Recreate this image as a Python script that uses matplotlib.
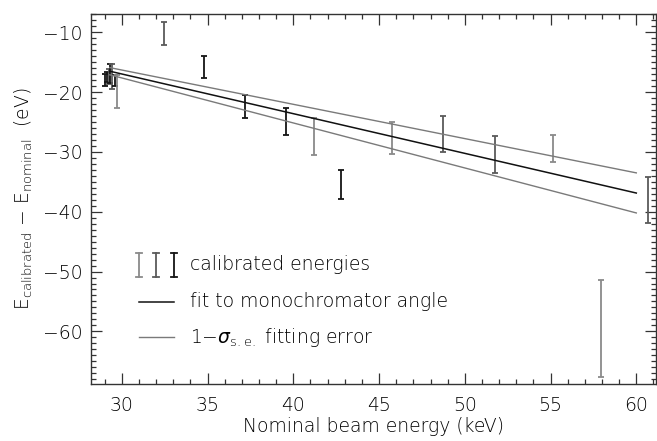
import matplotlib
matplotlib.use("Agg")
import matplotlib.pyplot as plt
from matplotlib.ticker import MultipleLocator

plt.rcParams['font.family'] = ['DejaVu Sans']
plt.rcParams['font.weight'] = 'light'
plt.rcParams['axes.labelweight'] = 'light'
plt.rcParams['mathtext.fontset'] = 'dejavusans'

# Calibration points: nominal energy (keV), offset centre and half-range (eV)
energy = [29.0, 29.12, 29.23, 29.33, 29.43, 29.58, 29.72, 32.43, 34.8, 37.18,
          39.6, 41.19, 42.76, 45.77, 48.75, 51.76, 55.16, 57.93, 60.69]
offset = [-18.0, -17.45, -17.45, -16.9, -17.4, -18.1, -19.9, -10.23, -15.8, -22.4,
          -24.9, -27.4, -35.5, -27.7, -27.0, -30.4, -29.4, -59.5, -38.0]
offset_err = [1.0, 0.85, 1.25, 1.6, 2.1, 0.9, 2.7, 1.9, 1.8, 1.9,
              2.3, 3.15, 2.45, 2.7, 2.93, 3.1, 2.2, 8.1, 3.8]
# measurement set each point belongs to
group = [2, 2, 1, 2, 1, 2, 0, 1, 2, 2, 2, 0, 2, 0, 1, 1, 0, 0, 1]
group_colors = ['#8a8a8a', '#5a5a5a', '#151515']

# Monochromator-angle fit and its 1-sigma envelope
fit_x = [29.3, 60.0]
fit_center = [-16.5, -36.87]
fit_upper = [-15.9, -33.5]
fit_lower = [-17.1, -40.2]

fig = plt.figure(figsize=(6.57, 4.41), dpi=100)
ax = fig.add_axes([0.1385, 0.1293, 0.86, 0.8387])

text_color = '#000000'

for x, y, e, g in zip(energy, offset, offset_err, group):
    ax.errorbar([x], [y], yerr=[e], fmt='none', ecolor=group_colors[g],
                elinewidth=1.3, capsize=2.2, capthick=1.3)

ax.plot(fit_x, fit_upper, color='#7a7a7a', lw=1.0)
ax.plot(fit_x, fit_lower, color='#7a7a7a', lw=1.0)
ax.plot(fit_x, fit_center, color='#111111', lw=1.1)

ax.set_xlim(28.2, 61.15)
ax.set_ylim(-68.8, -6.95)

ax.xaxis.set_major_locator(MultipleLocator(5))
ax.xaxis.set_minor_locator(MultipleLocator(1))
ax.yaxis.set_major_locator(MultipleLocator(10))
ax.yaxis.set_minor_locator(MultipleLocator(1))
ax.tick_params(which='both', direction='in', top=True, right=True,
               colors='#333333', labelcolor=text_color, labelsize=13.5, width=0.9)
ax.tick_params(which='major', length=8)
ax.tick_params(which='minor', length=3.6)
ax.tick_params(axis='x', pad=9)
ax.tick_params(axis='y', pad=6)
for s in ax.spines.values():
    s.set_color('#333333')
    s.set_linewidth(1.0)

ax.set_xlabel('Nominal beam energy (keV)', fontsize=13.5, color=text_color, labelpad=1)
ax.set_ylabel(r'E$_{\rm calibrated}$ $-$ E$_{\rm nominal}$  (eV)', fontsize=13.5,
              color=text_color, labelpad=6)

# Legend drawn in axes coordinates
tr = ax.transAxes
for lx, c in zip([0.0847, 0.1148, 0.1465], group_colors):
    ax.plot([lx, lx], [0.289, 0.355], color=c, lw=1.3, transform=tr)
    ax.plot([lx - 0.005, lx + 0.005], [0.355, 0.355], color=c, lw=1.3, transform=tr)
    ax.plot([lx - 0.005, lx + 0.005], [0.289, 0.289], color=c, lw=1.3, transform=tr)
ax.plot([0.0847, 0.1465], [0.222, 0.222], color='#111111', lw=1.1, transform=tr)
ax.plot([0.0847, 0.1465], [0.126, 0.126], color='#7a7a7a', lw=1.0, transform=tr)
ax.text(0.175, 0.322, 'calibrated energies', transform=tr, fontsize=13.5,
        color=text_color, va='center')
ax.text(0.175, 0.222, 'fit to monochromator angle', transform=tr, fontsize=13.5,
        color=text_color, va='center')
ax.text(0.175, 0.126, r'1$-\sigma_{\rm s.e.}$ fitting error', transform=tr, fontsize=13.5,
        color=text_color, va='center')

fig.savefig('out.png', dpi=100)
